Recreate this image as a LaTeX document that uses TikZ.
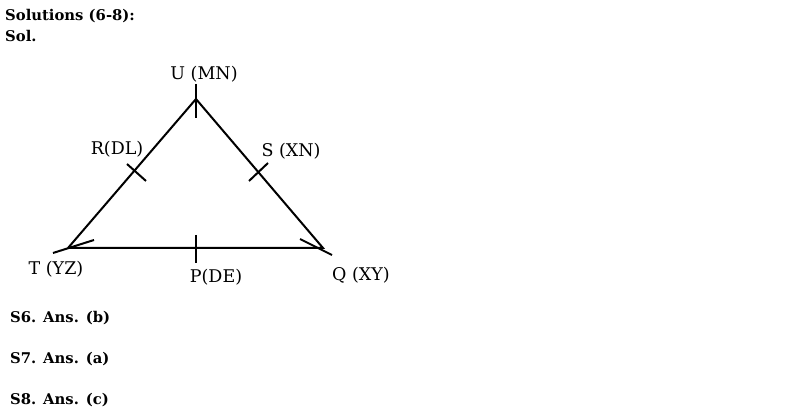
\documentclass[tikz,border=0pt]{standalone}
\usepackage{fontspec}
\setmainfont{DejaVu Serif}
\begin{document}
\begin{tikzpicture}[x=1pt,y=-1pt,
  edge/.style={line width=2pt,black},
  lbl/.style={font=\fontsize{17.5}{20}\selectfont,inner sep=0pt,anchor=base},
  head/.style={font=\bfseries\fontsize{14.8}{17}\selectfont,inner sep=0pt,anchor=base west}]
\useasboundingbox (0,0) rectangle (804,414);
% corners
\coordinate (U) at (196,99);
\coordinate (T) at (68,248);
\coordinate (Q) at (323,248);
% tick end points
\coordinate (Ua) at (196,84);
\coordinate (Ub) at (196,118);
\coordinate (Ra) at (127,164);
\coordinate (Rb) at (146,181);
\coordinate (Sa) at (249,181);
\coordinate (Sb) at (268,163);
\coordinate (Pa) at (196,235);
\coordinate (Pb) at (196,263);
\coordinate (Ta) at (53,253);
\coordinate (Tb) at (94,240);
\coordinate (Qa) at (300,239);
\coordinate (Qb) at (332,255);
% triangle
\draw[edge] (T) -- (U) -- (Q) -- (T);
\draw[edge] (Ua) -- (Ub);
\draw[edge] (Ra) -- (Rb);
\draw[edge] (Sa) -- (Sb);
\draw[edge] (Pa) -- (Pb);
\draw[edge] (Ta) -- (Tb);
\draw[edge] (Qa) -- (Qb);
% labels
\node[lbl] (lU) at (204,80) {U (MN)};
\node[lbl] (lR) at (117,155) {R(DL)};
\node[lbl] (lS) at (291,157) {S (XN)};
\node[lbl] (lT) at (56,275) {T (YZ)};
\node[lbl] (lP) at (216,283) {P(DE)};
\node[lbl] (lQ) at (361,281) {Q (XY)};
% headings
\node[head] (h1) at (5,21) {Solutions (6-8):};
\node[head] (h2) at (5,42) {Sol.};
\node[head] (a6) at (10,323) {S6. Ans. (b)};
\node[head] (a7) at (10,363) {S7. Ans. (a)};
\node[head] (a8) at (10,404) {S8. Ans. (c)};
\end{tikzpicture}
\end{document}
